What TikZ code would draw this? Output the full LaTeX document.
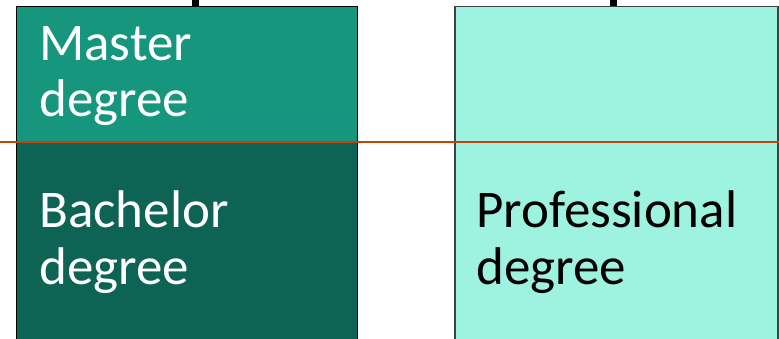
\documentclass[tikz,border=0pt]{standalone}
\usepackage{fontspec}
\setmainfont{Carlito}
\definecolor{mastercol}{RGB}{22,150,125}
\definecolor{bachcol}{RGB}{14,100,84}
\definecolor{profcol}{RGB}{157,242,224}
\definecolor{cutline}{RGB}{196,66,14}
\begin{document}
\begin{tikzpicture}[x=1pt,y=-1pt,
  box/.style={draw=black, line width=1.5pt, anchor=north west, inner sep=0pt, outer sep=0pt},
  lbl/.style={anchor=base west, inner sep=0pt, align=left, font=\fontsize{53}{56.7}\selectfont},
  stem/.style={line width=7pt, draw=black}]
\useasboundingbox (0,0) rectangle (779,339);
\node[box, fill=mastercol, minimum width=341pt, minimum height=135.5pt] (master) at (16.5,6.5) {};
\node[box, fill=bachcol, minimum width=341pt, minimum height=220pt] (bach) at (master.south west) {};
\node[box, fill=profcol, draw=black!75, minimum width=323pt, minimum height=360pt] (prof) at (455,6.5) {};
\coordinate (ltop) at (195,0);
\coordinate (rtop) at (613,0);
\draw[stem] (ltop) -- (ltop |- master.north);
\draw[stem] (rtop) -- (rtop |- prof.north);
\node[lbl, text=white] (mastertxt) at (39,117) {Master\\degree};
\node[lbl, text=white] (bachtxt) at (39,284) {Bachelor\\degree};
\node[lbl, text=black] (proftxt) at (476,284) {Professional\\degree};
\coordinate (cutL) at (0,142);
\coordinate (cutR) at (779,142);
\draw[cutline, line width=2.5pt] (cutL) -- (cutR);
\end{tikzpicture}
\end{document}
